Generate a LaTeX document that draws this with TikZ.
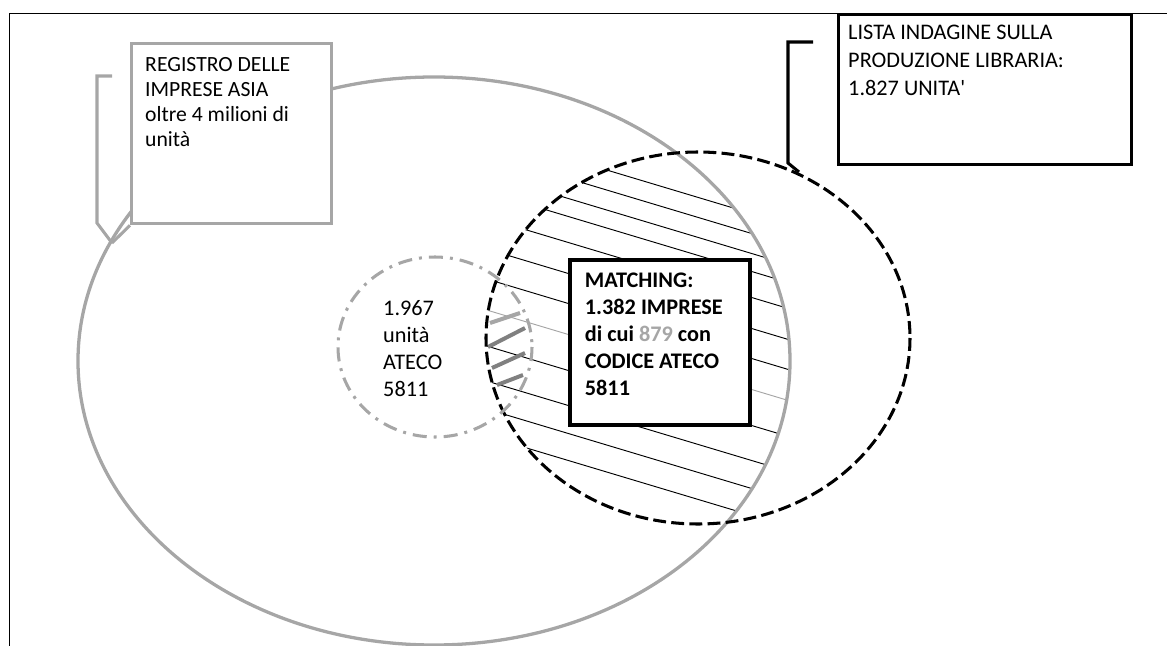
\documentclass[tikz,border=0pt]{standalone}
\usepackage{fontspec}
\newfontfamily\calfont{Carlito}
\usetikzlibrary{positioning}
\begin{document}
\begin{tikzpicture}[x=0.03cm,y=-0.03cm,
  frame/.style={black,line width=0.8pt},
  asialine/.style={lightgr,line width=2.8pt},
  listaline/.style={black,line width=2.6pt,dash pattern=on 11pt off 4.5pt},
  atecoline/.style={lightgr,line width=2.6pt,dash pattern=on 12pt off 6pt on 2.5pt off 6pt},
  hatch/.style={line width=0.8pt},
  callgray/.style={lightgr,line width=2.6pt},
  callblack/.style={black,line width=2.6pt},
  asiabox/.style={draw=lightgr,line width=2.8pt,fill=white,anchor=north west,minimum width=6cm,minimum height=5.4cm},
  listabox/.style={draw=black,line width=2.8pt,fill=white,anchor=north west,minimum width=8.79cm,minimum height=4.5cm},
  matchbox/.style={draw=black,line width=3.6pt,fill=white,anchor=north west,minimum width=5.4cm,minimum height=4.95cm},
  boxtext/.style={anchor=north west,inner sep=0,align=left,font=\calfont\fontsize{18.5}{21.3}\selectfont}]
  \definecolor{lightgr}{HTML}{A6A6A6}
  \definecolor{darkgr}{HTML}{808080}
  \useasboundingbox (0,0) rectangle (1167,646);
  \draw[frame] (9,646) -- (9,13) -- (1167,13);
  % hatching of the matching area
  \begin{scope}
    \clip (698,338) ellipse (212 and 186);
    \clip (434,361) ellipse (356 and 284);
    \foreach \yy/\cc in {168/black,188/black,208/black,226/black,252/black,283/black,313/black,
      344/lightgr,380/black,415/black,443/black,470/black}
      \draw[hatch,\cc] (450,\yy-45) -- (850,\yy+75);
  \end{scope}
  \foreach \ax/\ay/\bx/\by/\cc in {490/323/520/313/lightgr,488/347/525/328/darkgr,
    492/368/525/353/darkgr,497/385/523/375/darkgr}
    \draw[line width=3.4pt,\cc] (\ax,\ay) -- (\bx,\by);
  \draw[asialine] (434,361) ellipse (356 and 284);
  \draw[listaline] (698,338) ellipse (212 and 186);
  \draw[atecoline] (435,347) ellipse (97 and 90);
  % boxes
  \node[asiabox] (asia) at (130,42) {};
  \node[boxtext,below right=0.45cm and 0.45cm of asia.north west] (asiatxt)
    {REGISTRO DELLE\\IMPRESE ASIA\\oltre 4 milioni di\\unità};
  \node[listabox] (lista) at (837,13) {};
  \node[boxtext,font=\calfont\fontsize{19}{23.8}\selectfont,
    below right=0.36cm and 0.33cm of lista.north west] (listatxt)
    {LISTA INDAGINE SULLA\\PRODUZIONE LIBRARIA:\\1.827 UNITA'};
  \node[matchbox] (match) at (568,258) {};
  \node[boxtext,font=\calfont\bfseries\fontsize{19}{23}\selectfont,
    below right=0.45cm and 0.5cm of match.north west] (matchtxt)
    {MATCHING:\\1.382 IMPRESE\\di cui \textcolor{lightgr}{879} con\\CODICE ATECO\\5811};
  \node[boxtext,font=\calfont\fontsize{19}{23}\selectfont] (atecotxt) at (383,300)
    {1.967\\unità\\ATECO\\5811};
  % callouts
  \coordinate (asiapt) at (112,243);
  \coordinate (listapt) at (799,172);
  \draw[callgray] (112,76) -- (97,76) -- (97,223) -- (asiapt);
  \draw[callgray] (asia.south west) -- (asiapt);
  \draw[callblack] (813,42) -- (788,42) -- (788,163) -- (listapt);
\end{tikzpicture}
\end{document}
